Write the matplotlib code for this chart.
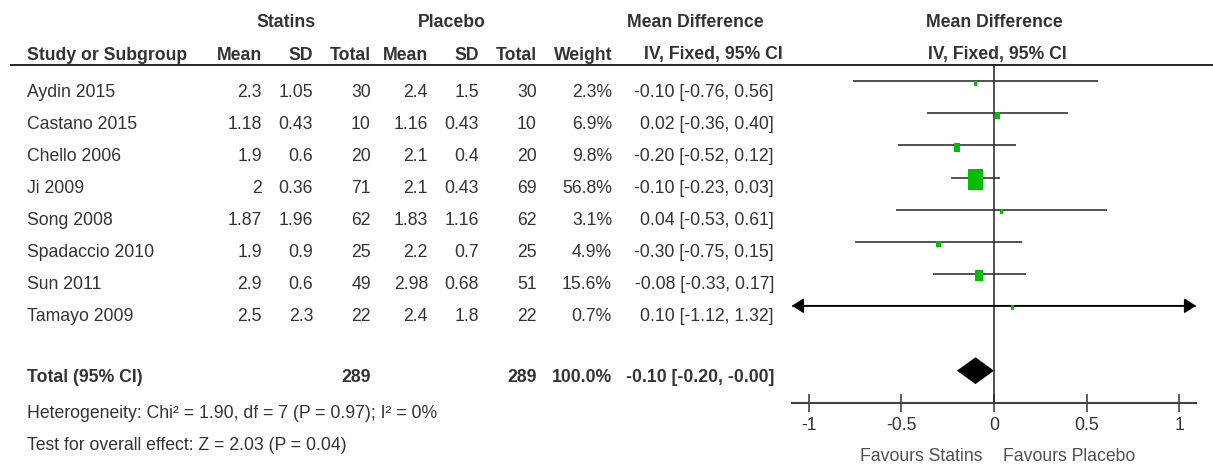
import matplotlib
matplotlib.use("Agg")
import matplotlib.pyplot as plt
from matplotlib.patches import Rectangle, Polygon

plt.rcParams['font.family'] = ['Liberation Sans', 'DejaVu Sans']

# ---------------- data ----------------
studies = ['Aydin 2015', 'Castano 2015', 'Chello 2006', 'Ji 2009',
           'Song 2008', 'Spadaccio 2010', 'Sun 2011', 'Tamayo 2009']
s_mean = [2.3, 1.18, 1.9, 2, 1.87, 1.9, 2.9, 2.5]
s_sd = [1.05, 0.43, 0.6, 0.36, 1.96, 0.9, 0.6, 2.3]
s_n = [30, 10, 20, 71, 62, 25, 49, 22]
p_mean = [2.4, 1.16, 2.1, 2.1, 1.83, 2.2, 2.98, 2.4]
p_sd = [1.5, 0.43, 0.4, 0.43, 1.16, 0.7, 0.68, 1.8]
p_n = [30, 10, 20, 69, 62, 25, 51, 22]
weight = [2.3, 6.9, 9.8, 56.8, 3.1, 4.9, 15.6, 0.7]
md = [-0.10, 0.02, -0.20, -0.10, 0.04, -0.30, -0.08, 0.10]
ci_lo = [-0.76, -0.36, -0.52, -0.23, -0.53, -0.75, -0.33, -1.12]
ci_hi = [0.56, 0.40, 0.12, 0.03, 0.61, 0.15, 0.17, 1.32]
total_md, total_lo, total_hi = -0.10, -0.20, -0.0
total_weight = 100.0
heterogeneity = "Heterogeneity: Chi² = 1.90, df = 7 (P = 0.97); I² = 0%"
overall = "Test for overall effect: Z = 2.03 (P = 0.04)"
xticks = [-1, -0.5, 0, 0.5, 1]
xticklabels = ['-1', '-0.5', '0', '0.5', '1']
xlim = (-1.09, 1.09)

# ---------------- layout ----------------
W, H = 1213, 467
fig = plt.figure(figsize=(W / 100, H / 100), dpi=100)
FS = 12.7
TXT = '#333333'

tax = fig.add_axes([0, 0, 1, 1])
tax.set_xlim(0, W)
tax.set_ylim(H, 0)
tax.axis('off')

def t(x, y, s, ha='left', bold=False, color=TXT, size=FS):
    tax.text(x, y, s, ha=ha, va='baseline', fontsize=size,
             fontweight='bold' if bold else 'normal', color=color)

# column right edges
c_smean, c_ssd, c_sn = 262, 313, 371
c_pmean, c_psd, c_pn = 428, 479, 537
c_w, c_ci = 612, 774

# headers
hy1, hy2 = 27, 59.5
t(286, hy1, 'Statins', ha='center', bold=True)
t(452, hy1, 'Placebo', ha='center', bold=True)
t(695, hy1, 'Mean Difference', ha='center', bold=True)
t(994, hy1, 'Mean Difference', ha='center', bold=True)
t(27, hy2, 'Study or Subgroup', bold=True)
for x, s in [(c_smean, 'Mean'), (c_ssd, 'SD'), (c_sn, 'Total'),
             (c_pmean, 'Mean'), (c_psd, 'SD'), (c_pn, 'Total'),
             (c_w, 'Weight')]:
    t(x, hy2, s, ha='right', bold=True)
t(713, hy2, 'IV, Fixed, 95% CI', ha='center', bold=True)
t(997, hy2, 'IV, Fixed, 95% CI', ha='center', bold=True)
tax.plot([10, W], [65, 65], color='black', lw=1.2, solid_capstyle='butt')

# rows
row0, dy = 96.8, 32.07
for i, name in enumerate(studies):
    y = row0 + i * dy
    t(27, y, name)
    t(c_smean, y, f"{s_mean[i]:g}", ha='right')
    t(c_ssd, y, f"{s_sd[i]:g}", ha='right')
    t(c_sn, y, f"{s_n[i]}", ha='right')
    t(c_pmean, y, f"{p_mean[i]:g}", ha='right')
    t(c_psd, y, f"{p_sd[i]:g}", ha='right')
    t(c_pn, y, f"{p_n[i]}", ha='right')
    t(c_w, y, f"{weight[i]:.1f}%", ha='right')
    t(c_ci, y, f"{md[i]:.2f} [{ci_lo[i]:.2f}, {ci_hi[i]:.2f}]", ha='right')

ty = 382.3
t(27, ty, 'Total (95% CI)', bold=True)
t(c_sn, ty, f"{sum(s_n)}", ha='right', bold=True)
t(c_pn, ty, f"{sum(p_n)}", ha='right', bold=True)
t(c_w, ty, f"{total_weight:.1f}%", ha='right', bold=True)
t(c_ci, ty, f"{total_md:.2f} [{total_lo:.2f}, {total_hi:.2f}]", ha='right', bold=True)
t(27, 418.5, heterogeneity)
t(27, 450, overall)

t(983, 461, 'Favours Statins', ha='right', color='#505050')
t(1003, 461, 'Favours Placebo', ha='left', color='#505050')

# ---------------- forest plot ----------------
px0, px1 = 792, 1196
ytop, ybot = 65, 402.7
ax = fig.add_axes([px0 / W, 1 - ybot / H, (px1 - px0) / W, (ybot - ytop) / H])
ax.set_xlim(*xlim)
ax.set_ylim(ybot, ytop)
ax.patch.set_alpha(0)
for s in ['top', 'left', 'right']:
    ax.spines[s].set_visible(False)
ax.spines['bottom'].set_color('#404040')
ax.spines['bottom'].set_linewidth(1.5)
ax.set_yticks([])
ax.set_xticks(xticks)
ax.set_xticklabels(xticklabels)
ax.tick_params(axis='x', direction='inout', length=13, width=1.1,
               color='#333333', labelsize=FS, labelcolor=TXT, pad=4)

ax.axvline(0, color='#222222', lw=1.1, zorder=2)

px_per_unit = (px1 - px0) / (xlim[1] - xlim[0])
line0 = 81.3
for i in range(len(studies)):
    y = line0 + i * dy
    lo = max(ci_lo[i], xlim[0])
    hi = min(ci_hi[i], xlim[1])
    ax.plot([lo, hi], [y, y], color='#333333', lw=1.2, zorder=3,
            solid_capstyle='butt')
    if ci_lo[i] < xlim[0]:
        ax.annotate('', xy=(xlim[0], y), xytext=(md[i], y),
                    arrowprops=dict(arrowstyle='-|>,head_length=0.7,head_width=0.45',
                                    color='black', lw=1.2, shrinkA=0, shrinkB=0),
                    annotation_clip=False, zorder=3)
    if ci_hi[i] > xlim[1]:
        ax.annotate('', xy=(xlim[1], y), xytext=(md[i], y),
                    arrowprops=dict(arrowstyle='-|>,head_length=0.7,head_width=0.45',
                                    color='black', lw=1.2, shrinkA=0, shrinkB=0),
                    annotation_clip=False, zorder=3)
    area = max(5.5 * weight[i], 18)
    wpx = (area / 1.3) ** 0.5
    hpx = wpx * 1.3
    wd = wpx / px_per_unit
    ax.add_patch(Rectangle((md[i] - wd / 2, y + 2 - hpx / 2), wd, hpx,
                           facecolor='#00bf00', edgecolor='none', zorder=4))

yd = 370.7
hh = 13.4
ax.add_patch(Polygon([(total_lo, yd), (total_md, yd - hh), (total_hi, yd),
                      (total_md, yd + hh)], closed=True, facecolor='black',
                     edgecolor='none', zorder=4))

fig.savefig('out.png', dpi=100)
